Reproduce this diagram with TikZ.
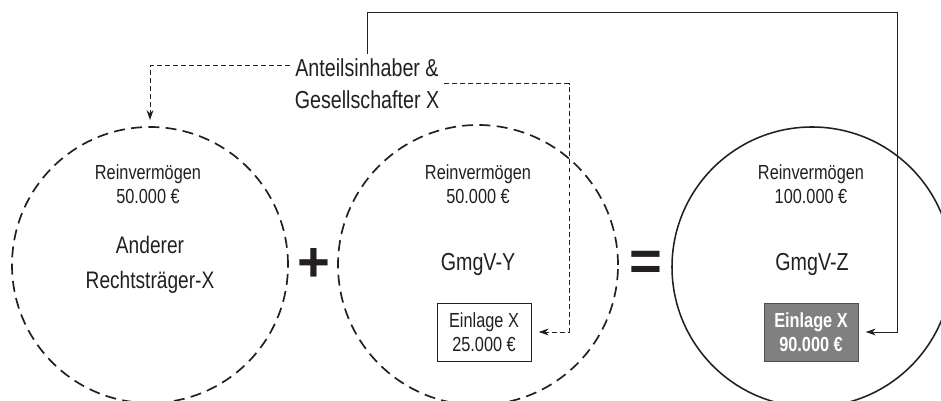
\documentclass[tikz,border=0pt]{standalone}
\usepackage{fontspec}
\setmainfont[FakeStretch=0.8]{Liberation Sans}
\newfontfamily\gvzeichenschrift{Liberation Sans}
\usetikzlibrary{positioning,arrows.meta,calc}
\definecolor{gvgrau}{HTML}{808080}
\definecolor{gvgraudunkel}{HTML}{4D4D4D}
\definecolor{gvschwarz}{HTML}{231F20}
\tikzset{
  gvkreis/.style={circle, draw=gvschwarz, line width=1.2pt, dash pattern=on 7.8pt off 4.5pt,
                  minimum size=6.9cm, inner sep=0pt},
  gvkreisfest/.style={circle, draw=gvschwarz, line width=1.1pt, minimum size=7cm, inner sep=0pt},
  gvklein/.style={font=\fontsize{14.5pt}{17pt}\selectfont, align=center, text=gvschwarz},
  gvgross/.style={font=\fontsize{17.5pt}{23pt}\selectfont, align=center, text=gvschwarz},
  gveinlage/.style={draw=gvschwarz, fill=white, line width=0.6pt, gvklein, minimum width=2.35cm,
                  minimum height=1.45cm, inner sep=0pt},
  gveinlagedunkel/.style={gveinlage, fill=gvgrau, draw=gvgraudunkel, text=white,
                  font=\fontsize{14.5pt}{17pt}\selectfont\bfseries},
  gvpfeil/.style={-{Stealth[length=2.5mm, width=1.7mm]}, line width=0.7pt, draw=gvschwarz},
  gvpfeilgestrichelt/.style={gvpfeil, dash pattern=on 3.5pt off 2.2pt},
  gvzeichen/.style={font=\gvzeichenschrift\fontsize{40pt}{40pt}\selectfont\bfseries, text=gvschwarz},
}
\begin{document}
\begin{tikzpicture}
        \clip (0,0) rectangle (23.525,10.025);
        % ---------------- kreise ----------------
        \node[gvkreis] (rt) at (3.75,3.4) {};
        \node[gvkreis, minimum size=7cm] (gy) at (11.95,3.4) {};
        \node[gvkreisfest] (gz) at (20.3,3.35) {};
        % ---------------- reinvermoegen ----------------
        \node[gvklein] (rtwert) at (3.7,5.425) {Reinvermögen\\ 50.000 €};
        \node[gvklein] (gywert) at (11.95,5.425) {Reinvermögen\\ 50.000 €};
        \node[gvklein] (gzwert) at (20.275,5.425) {Reinvermögen\\ 100.000 €};
        % ---------------- namen ----------------
        \node[gvgross, font=\fontsize{17pt}{25pt}\selectfont] (rtname) at (3.75,3.41) {Anderer\\ Rechtsträger-X};
        \node[gvgross] (gyname) at (11.95,3.425) {GmgV-Y};
        \node[gvgross] (gzname) at (20.3,3.425) {GmgV-Z};
        % ---------------- einlagen ----------------
        \node[gveinlage] (ein1) at (12.1,1.725) {Einlage X\\ 25.000 €};
        \node[gveinlagedunkel] (ein2) at (20.275,1.725) {Einlage X\\ 90.000 €};
        % ---------------- zeichen ----------------
        \node[gvzeichen] (plus) at (7.85,3.4) {+};
        \node[gvzeichen] (gleich) at (16.15,3.375) {=};
        % ---------------- gesellschafter ----------------
        \node[gvgross] (inh) at (9.175,7.925) {Anteilsinhaber \&\\ Gesellschafter X};
        \coordinate (ecke) at (22.425,9.7);
        \coordinate (knick) at (14.225,0);
        % ---------------- pfeile ----------------
        \draw[gvpfeilgestrichelt] ([yshift=0.45cm]inh.west) -| ([yshift=0.15cm]rt.north);
        \draw[gvpfeilgestrichelt] (inh.east) -- (inh.east -| knick) |- ([xshift=0.18cm]ein1.east);
        \draw[gvpfeil] (inh.north) |- (ecke) |- ([xshift=0.18cm]ein2.east);
    \end{tikzpicture}
\end{document}
